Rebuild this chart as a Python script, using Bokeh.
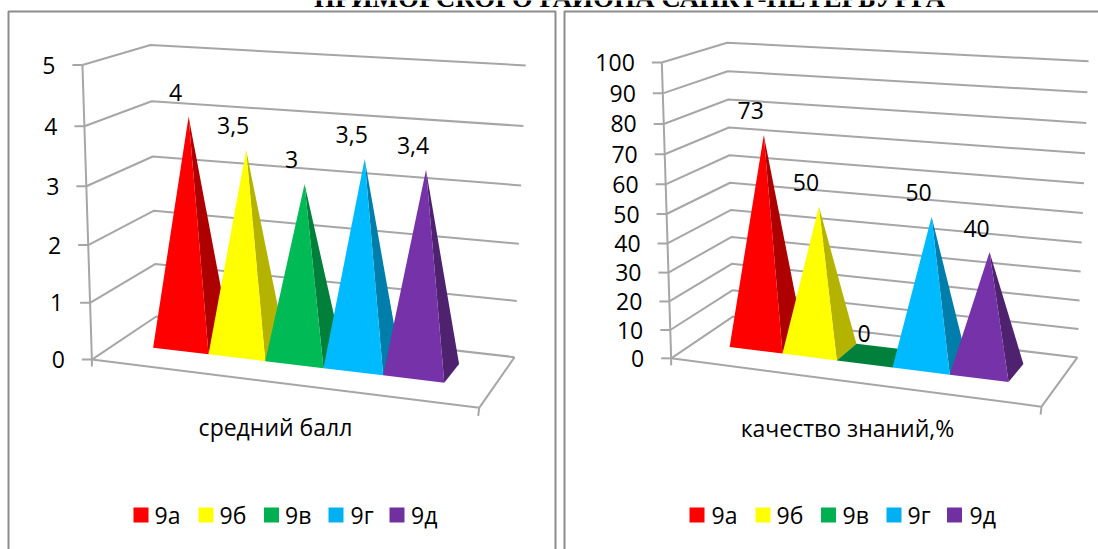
import numpy as np
from bokeh.plotting import figure
from bokeh.core.properties import value
from bokeh.embed import file_html
from bokeh.resources import INLINE

# ---- data ----
classes = ["9а", "9б", "9в", "9г", "9д"]
avg_score = [4, 3.5, 3, 3.5, 3.4]
quality = [73, 50, 0, 50, 40]
avg_ticks = [0, 1, 2, 3, 4, 5]
quality_ticks = [0, 10, 20, 30, 40, 50, 60, 70, 80, 90, 100]
avg_name = "средний балл"
quality_name = "качество знаний,%"
title_text = "ПРИМОРСКОГО РАЙОНА САНКТ-ПЕТЕРБУРГА"

# ---- styles ----
front_colors = ["#FF0000", "#FFFF00", "#00BA55", "#00BAFF", "#7632A8"]
side_colors = ["#AE0000", "#B4B400", "#00803A", "#007EAB", "#4F2270"]
legend_colors = ["#FF0000", "#FFFF00", "#00B050", "#00B0F0", "#7030A0"]
GRID = "#A6A6A6"
FRAME = "#8C8C8C"
FONT = "Open Sans"
FS = "23px"
FS_NAME = "23px"


def fit_camera(pairs):
    """3D box coordinates (u, depth, height; all 0..1) to page pixels."""
    rows, rhs = [], []
    for (u, w, v), (x, y) in pairs:
        rows.append([u, w, v, 1, 0, 0, 0, 0, -x * u, -x * w, -x * v])
        rhs.append(x)
        rows.append([0, 0, 0, 0, u, w, v, 1, -y * u, -y * w, -y * v])
        rhs.append(y)
    m = np.linalg.lstsq(np.array(rows, float), np.array(rhs, float), rcond=None)[0]
    return np.append(m, 1.0).reshape(3, 4)


def project(cam, u, w, v):
    q = cam @ np.array([u, w, v, 1.0])
    return q[0] / q[2], q[1] / q[2]


panels = [
    dict(
        values=avg_score, ticks=avg_ticks, vmax=5, name=avg_name,
        name_xy=(275, 426),
        cal=[((0, 0, 0), (92, 358)), ((0, 0, 1), (81, 65)),
             ((0, 1, 0), (155, 317)), ((0, 1, 1), (151, 44)),
             ((1, 1, 0), (514, 356)), ((1, 1, 1), (525, 65)),
             ((1, 0, 0), (479, 408))],
        base=(0.105, 0.88, 0.36, 0.74),
        legend_sq=[133, 198, 263.5, 328, 389], legend_tx=[154, 219, 284.5, 350, 410.5],
    ),
    dict(
        values=quality, ticks=quality_ticks, vmax=100, name=quality_name,
        name_xy=(847, 427),
        cal=[((0, 0, 0), (671, 357)), ((0, 0, 1), (661, 62)),
             ((0, 1, 0), (732, 317)), ((0, 1, 1), (727, 42)),
             ((1, 1, 0), (1077, 356)), ((1, 1, 1), (1088, 61)),
             ((1, 0, 0), (1041, 407))],
        base=(0.105, 0.88, 0.36, 0.74),
        legend_sq=[689, 755, 820.5, 886, 946.5], legend_tx=[711, 776, 842, 907, 969],
    ),
]

p = figure(width=1098, height=549, x_range=(0, 1098), y_range=(549, 0),
           x_axis_type="linear", output_backend="svg", toolbar_location=None,
           min_border=0, outline_line_color=None, background_fill_color="white",
           border_fill_color="white")
p.axis.visible = False
p.grid.visible = False
p.styles = {"position": "absolute", "left": "0px", "top": "0px"}

# title, cut by the top of the page
p.text([629], [-3], text=[title_text], text_font=value("Liberation Serif"),
       text_font_style="bold", text_font_size="27px", text_align="center",
       text_baseline="alphabetic", text_color="black")

# panel frames
p.multi_line([[8, 8, 555, 555], [564, 564, 1098]],
             [[549, 11, 11, 549], [549, 11, 11]],
             line_color=FRAME, line_width=2)

for pn in panels:
    cam = fit_camera(pn["cal"])
    P = lambda u, w, v: project(cam, u, w, v)
    xs, ys = [], []

    def seg(a, b):
        xs.append([a[0], b[0]])
        ys.append([a[1], b[1]])

    # walls
    for t in pn["ticks"]:
        h = t / pn["vmax"]
        fl, bl, br = P(0, 0, h), P(0, 1, h), P(1, 1, h)
        xs.append([fl[0], bl[0], br[0]])
        ys.append([fl[1], bl[1], br[1]])
        seg(fl, (fl[0] - 10, fl[1]))
    # vertical axis
    axis_pts = [P(0, 0, t / pn["vmax"]) for t in pn["ticks"]]
    xs.append([a[0] for a in axis_pts])
    ys.append([a[1] for a in axis_pts])
    # floor
    f0, f1, f2, f3 = P(0, 0, 0), P(1, 0, 0), P(1, 1, 0), P(0, 1, 0)
    xs.append([f0[0], f1[0], f2[0]])
    ys.append([f0[1], f1[1], f2[1]])
    seg(f0, (f0[0], f0[1] + 7))
    seg(f1, (f1[0] - 1, f1[1] + 8))
    p.multi_line(xs, ys, line_color=GRID, line_width=2)

    # tick labels
    p.text([a[0] - 27 for a in axis_pts], [a[1] for a in axis_pts],
           text=[str(t) for t in pn["ticks"]], text_font=value(FONT),
           text_font_size=FS, text_align="right", text_baseline="middle",
           text_color="black")

    # pyramids
    u0, u1, w0, w1 = pn["base"]
    cell = (u1 - u0) / len(classes)
    lab_x, lab_y, lab_t = [], [], []
    for i, val in enumerate(pn["values"]):
        a, b = u0 + i * cell, u0 + (i + 1) * cell
        c = (a + b) / 2
        m = (w0 + w1) / 2
        h = val / pn["vmax"]
        FL, FR, BR, BL = P(a, w0, 0), P(b, w0, 0), P(b, w1, 0), P(a, w1, 0)
        T = P(c, m, h)
        if val == 0:
            p.patch([FL[0], FR[0], BR[0], BL[0]], [FL[1], FR[1], BR[1], BL[1]],
                    fill_color=side_colors[i], line_color=None)
            lab_x.append(T[0] - 10)
            lab_y.append(T[1] - 22)
        else:
            p.patch([FR[0], BR[0], T[0]], [FR[1], BR[1], T[1]],
                    fill_color=side_colors[i], line_color=None)
            p.patch([FL[0], FR[0], T[0]], [FL[1], FR[1], T[1]],
                    fill_color=front_colors[i], line_color=None)
            lab_x.append(T[0] - 13)
            lab_y.append(T[1] - 24)
        lab_t.append(str(val).replace(".", ","))
    p.text(lab_x, lab_y, text=lab_t, text_font=value(FONT), text_font_size=FS,
           text_align="center", text_baseline="middle", text_color="black")

    # axis name
    p.text([pn["name_xy"][0]], [pn["name_xy"][1]], text=[pn["name"]],
           text_font=value(FONT), text_font_size=FS_NAME, text_align="center",
           text_baseline="middle", text_color="black")

    # legend
    sq = np.array(pn["legend_sq"], float)
    p.quad(left=sq, right=sq + 15, top=[507] * 5, bottom=[522] * 5,
           fill_color=legend_colors, line_color=None)
    p.text(pn["legend_tx"], [514] * 5, text=classes, text_font=value(FONT),
           text_font_size=FS, text_align="left", text_baseline="middle",
           text_color="black")

open("out.html", "w").write(file_html(p, INLINE))
